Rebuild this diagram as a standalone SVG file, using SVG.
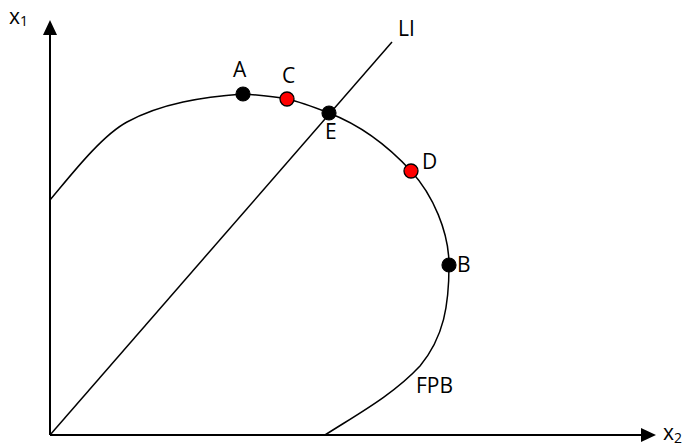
<svg xmlns="http://www.w3.org/2000/svg" width="686" height="446" viewBox="0 0 686 446">
  <style>
    .axis { stroke: #000; stroke-width: 2; fill: none; }
    .line { stroke: #000; stroke-width: 1.5; fill: none; }
    .lbl { font-family: "Open Sans", "Liberation Sans", sans-serif; font-size: 21px; fill: #000; }
    .ax { font-family: "Open Sans", "Liberation Sans", sans-serif; font-size: 21px; fill: #000; }
    .sub { font-size: 14px; }
    .blk { fill: #000; stroke: #000; stroke-width: 1.2; }
    .red { fill: #ff0000; stroke: #000; stroke-width: 1.3; }
  </style>
  <defs>
    <marker id="arrow" viewBox="0 0 15 14" refX="2" refY="7" markerWidth="15" markerHeight="14" markerUnits="userSpaceOnUse" orient="auto">
      <path d="M0,0 L15,7 L0,14 Z" fill="#000"/>
    </marker>
  </defs>
  <g id="connectors">
    <line id="axis-x1" class="axis" x1="50" y1="435" x2="50" y2="33" marker-end="url(#arrow)"/>
    <line id="axis-x2" class="axis" x1="50" y1="435" x2="643" y2="435" marker-end="url(#arrow)"/>
    <line id="LI-line" class="line" x1="50" y1="435" x2="392" y2="42"/>
    <path id="FPB-curve" class="line" d="M50,200 C69.5,177 101,136 127,122 C162,103 203,97 243,94 C258,95 272,96 287,99 C301,102 315,107.5 329,113 C360,125 389,147 411,171 C433,195 449,232 449,265 C449,305 444,337 420,366 C393,395 357,414.5 325,435"/>
  </g>
  <g id="label-x1"><text class="ax" x="9" y="24">x<tspan class="sub" dy="2">1</tspan></text></g>
  <g id="label-x2"><text class="ax" x="663" y="440">x<tspan class="sub" dy="3">2</tspan></text></g>
  <g id="label-LI"><text class="lbl" x="398" y="36">LI</text></g>
  <g id="label-FPB"><text class="lbl" x="416" y="393">FPB</text></g>
  <g id="node-A"><circle class="blk" cx="243" cy="94" r="7"/><text class="lbl" x="233" y="77">A</text></g>
  <g id="node-C"><circle class="red" cx="287" cy="99" r="7"/><text class="lbl" x="282" y="83">C</text></g>
  <g id="node-E"><circle class="blk" cx="329" cy="113" r="7"/><text class="lbl" x="325" y="139">E</text></g>
  <g id="node-D"><circle class="red" cx="411" cy="171" r="7"/><text class="lbl" x="422" y="169">D</text></g>
  <g id="node-B"><circle class="blk" cx="449" cy="265" r="7"/><text class="lbl" x="457" y="272">B</text></g>
</svg>
